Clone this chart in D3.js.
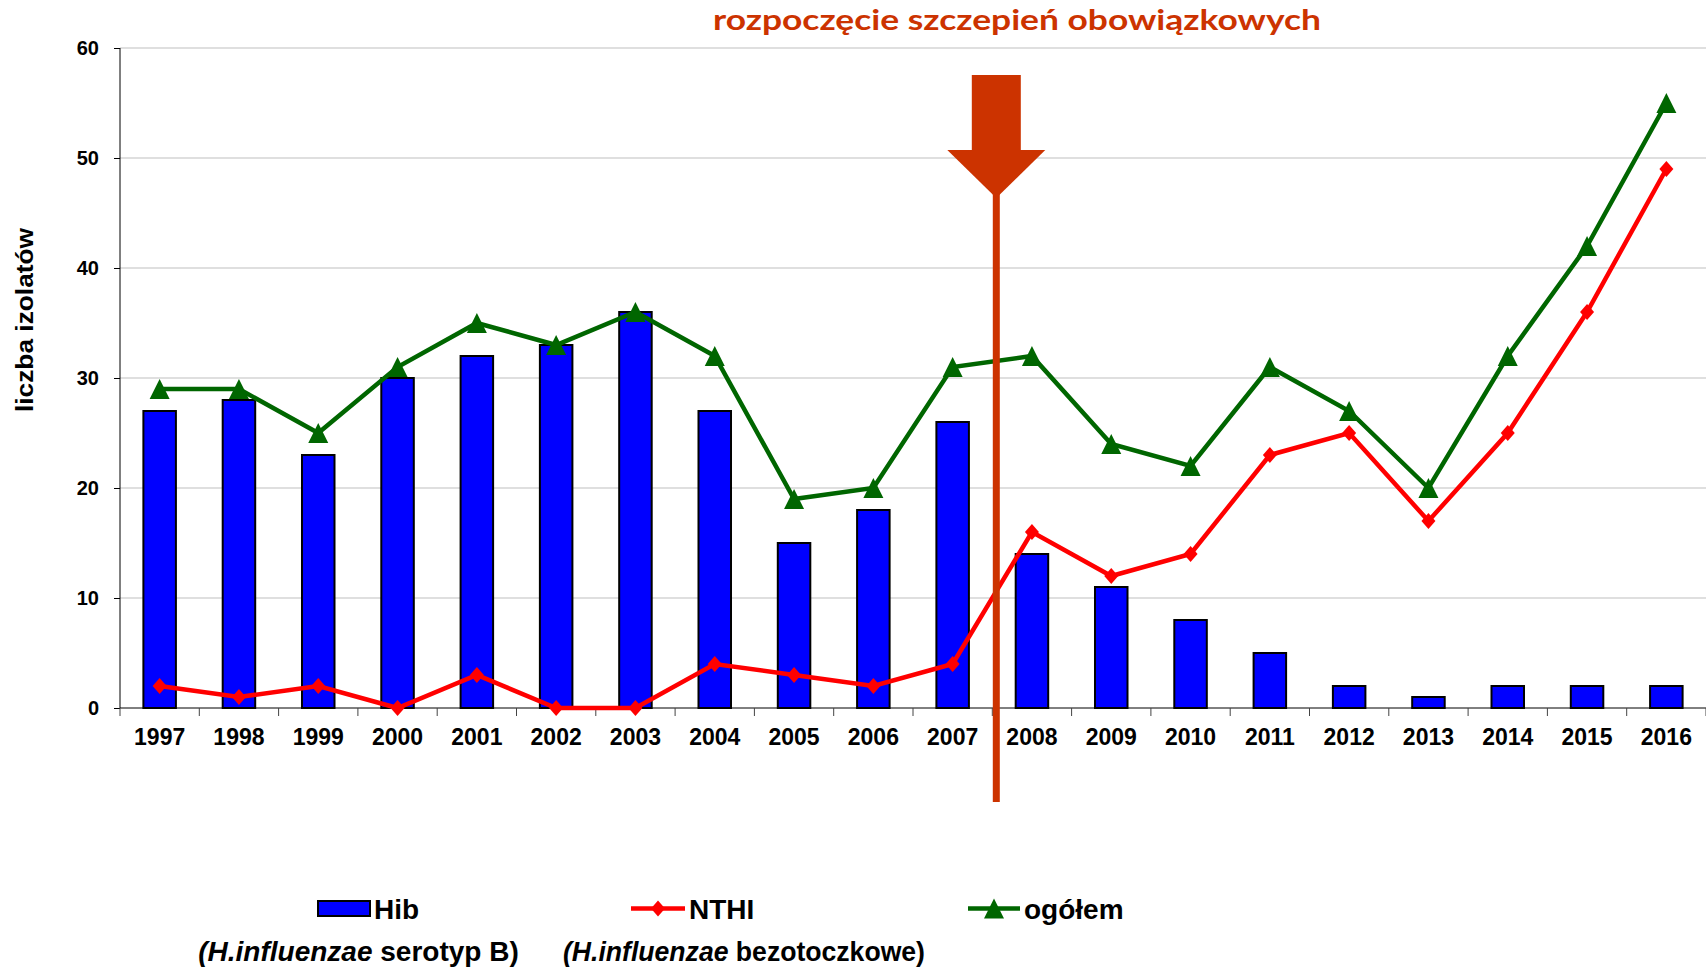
<!DOCTYPE html>
<html>
<head>
<meta charset="utf-8">
<script src="https://cdn.jsdelivr.net/npm/d3@7"></script>
<style>
  body { margin: 0; background: #fff; }
  svg { display: block; font-family: "Liberation Sans", Arial, sans-serif; }
  .axis text { font-weight: bold; fill: #000; }
  .axis path, .axis line { stroke: #000; }
</style>
</head>
<body>
<script>
// data
var years = ["1997","1998","1999","2000","2001","2002","2003","2004","2005","2006",
             "2007","2008","2009","2010","2011","2012","2013","2014","2015","2016"];
var hib    = [27, 28, 23, 30, 32, 33, 36, 27, 15, 18, 26, 14, 11, 8, 5, 2, 1, 2, 2, 2];
var nthi   = [2, 1, 2, 0, 3, 0, 0, 4, 3, 2, 4, 16, 12, 14, 23, 25, 17, 25, 36, 49];
var ogolem = [29, 29, 25, 31, 35, 33, 36, 32, 19, 20, 31, 32, 24, 22, 31, 27, 20, 32, 42, 55];
var yTicks = [0, 10, 20, 30, 40, 50, 60];
var vaccinationYear = "2008";

var width = 1706, height = 969;
var plotLeft = 120, plotRight = 1706, plotTop = 48, plotBottom = 708;

var svg = d3.select("body").append("svg")
    .attr("width", width)
    .attr("height", height);

var x = d3.scaleBand()
    .domain(years)
    .range([plotLeft, plotRight])
    .paddingInner(0.59)
    .paddingOuter(0.295);

var y = d3.scaleLinear()
    .domain([0, 60])
    .range([plotBottom, plotTop]);

var step = x.step();
var bw = x.bandwidth();
var cx = d => x(d) + bw / 2;

// gridlines
svg.append("g")
  .selectAll("line")
  .data(yTicks.filter(d => d > 0))
  .enter().append("line")
    .attr("x1", plotLeft).attr("x2", plotRight)
    .attr("y1", d => y(d)).attr("y2", d => y(d))
    .attr("stroke", "#c0c0c0")
    .attr("stroke-width", 1.2);

// bars
svg.append("g")
  .selectAll("rect")
  .data(hib)
  .enter().append("rect")
    .attr("x", (d, i) => x(years[i]))
    .attr("y", d => y(d))
    .attr("width", bw)
    .attr("height", d => y(0) - y(d))
    .attr("fill", "#0000ff")
    .attr("stroke", "#000")
    .attr("stroke-width", 2);

// y axis
svg.append("g")
    .attr("class", "axis")
    .attr("transform", "translate(" + plotLeft + ",0)")
    .call(d3.axisLeft(y).tickValues(yTicks).tickSize(6).tickPadding(15))
    .call(g => g.selectAll("text").style("font-size", "20px"))
    .call(g => g.select(".domain").attr("d", "M0," + plotTop + "V" + plotBottom));

// x axis (labels only, ticks drawn between categories)
svg.append("g")
    .attr("class", "axis")
    .attr("transform", "translate(0," + plotBottom + ")")
    .call(d3.axisBottom(x).tickSize(0).tickPadding(21))
    .call(g => g.selectAll("text").style("font-size", "23px"))
    .call(g => g.select(".domain").attr("d", "M" + plotLeft + ",0H" + plotRight));

var bounds = [x(years[0]) - step * 0.295].concat(years.map(d => x(d) + bw + step * 0.295));
svg.append("g")
  .selectAll("line")
  .data(bounds)
  .enter().append("line")
    .attr("x1", d => d).attr("x2", d => d)
    .attr("y1", plotBottom).attr("y2", plotBottom + 8)
    .attr("stroke", "#444")
    .attr("stroke-width", 1);

// lines
var line = d3.line()
    .x((d, i) => cx(years[i]))
    .y(d => y(d));

var diamond = "M0,-8L7,0L0,8L-7,0Z";
var triangle = "M0,-10L10,10L-10,10Z";

svg.append("path")
    .datum(nthi)
    .attr("d", line)
    .attr("fill", "none")
    .attr("stroke", "#ff0000")
    .attr("stroke-width", 4.5);

svg.append("g")
  .selectAll("path")
  .data(nthi)
  .enter().append("path")
    .attr("d", diamond)
    .attr("transform", (d, i) => "translate(" + cx(years[i]) + "," + y(d) + ")")
    .attr("fill", "#ff0000");

svg.append("path")
    .datum(ogolem)
    .attr("d", line)
    .attr("fill", "none")
    .attr("stroke", "#006600")
    .attr("stroke-width", 4.5);

svg.append("g")
  .selectAll("path")
  .data(ogolem)
  .enter().append("path")
    .attr("d", triangle)
    .attr("transform", (d, i) => "translate(" + cx(years[i]) + "," + y(d) + ")")
    .attr("fill", "#006600");

// vaccination arrow
var ax = x(vaccinationYear) - (step - bw) / 2 + 4;
var arrowColor = "#cc3300";
svg.append("line")
    .attr("x1", ax).attr("x2", ax)
    .attr("y1", 190).attr("y2", 802)
    .attr("stroke", arrowColor)
    .attr("stroke-width", 7);
svg.append("rect")
    .attr("x", ax - 24.5).attr("y", 75)
    .attr("width", 49).attr("height", 76)
    .attr("fill", arrowColor);
svg.append("path")
    .attr("d", "M" + (ax - 49) + ",150L" + (ax + 49) + ",150L" + ax + ",198Z")
    .attr("fill", arrowColor);

svg.append("text")
    .attr("x", 1017)
    .attr("y", 30)
    .attr("text-anchor", "middle")
    .attr("textLength", 608)
    .attr("lengthAdjust", "spacingAndGlyphs")
    .style("font-family", "Lato, 'Open Sans', sans-serif")
    .style("font-weight", "bold")
    .style("font-size", "29px")
    .attr("fill", arrowColor)
    .text("rozpoczęcie szczepień obowiązkowych");

// y axis title
svg.append("text")
    .attr("transform", "translate(33,320) rotate(-90)")
    .attr("text-anchor", "middle")
    .attr("textLength", 184)
    .attr("lengthAdjust", "spacingAndGlyphs")
    .style("font-weight", "bold")
    .style("font-size", "23px")
    .text("liczba izolatów");

// legend
var lg = svg.append("g").style("font-weight", "bold").style("font-size", "28px");
var ly = 908.5;

lg.append("rect")
    .attr("x", 318).attr("y", ly - 7.5)
    .attr("width", 52).attr("height", 15)
    .attr("fill", "#0000ff").attr("stroke", "#000").attr("stroke-width", 2);
lg.append("text").attr("x", 374).attr("y", ly + 10).text("Hib");

lg.append("line")
    .attr("x1", 631).attr("x2", 685).attr("y1", ly).attr("y2", ly)
    .attr("stroke", "#ff0000").attr("stroke-width", 4.5);
lg.append("path").attr("d", diamond)
    .attr("transform", "translate(658," + ly + ")").attr("fill", "#ff0000");
lg.append("text").attr("x", 689).attr("y", ly + 10).text("NTHI");

lg.append("line")
    .attr("x1", 968).attr("x2", 1020).attr("y1", ly).attr("y2", ly)
    .attr("stroke", "#006600").attr("stroke-width", 4.5);
lg.append("path").attr("d", triangle)
    .attr("transform", "translate(994," + ly + ")").attr("fill", "#006600");
lg.append("text").attr("x", 1024).attr("y", ly + 10).text("ogółem");

var sub1 = lg.append("text").attr("x", 358.5).attr("y", 961).attr("text-anchor", "middle");
sub1.append("tspan").style("font-style", "italic").text("(H.influenzae");
sub1.append("tspan").text(" serotyp B)");

var sub2 = lg.append("text").attr("x", 744).attr("y", 961).attr("text-anchor", "middle")
    .attr("textLength", 362).attr("lengthAdjust", "spacingAndGlyphs");
sub2.append("tspan").style("font-style", "italic").text("(H.influenzae");
sub2.append("tspan").text(" bezotoczkowe)");
</script>
</body>
</html>
